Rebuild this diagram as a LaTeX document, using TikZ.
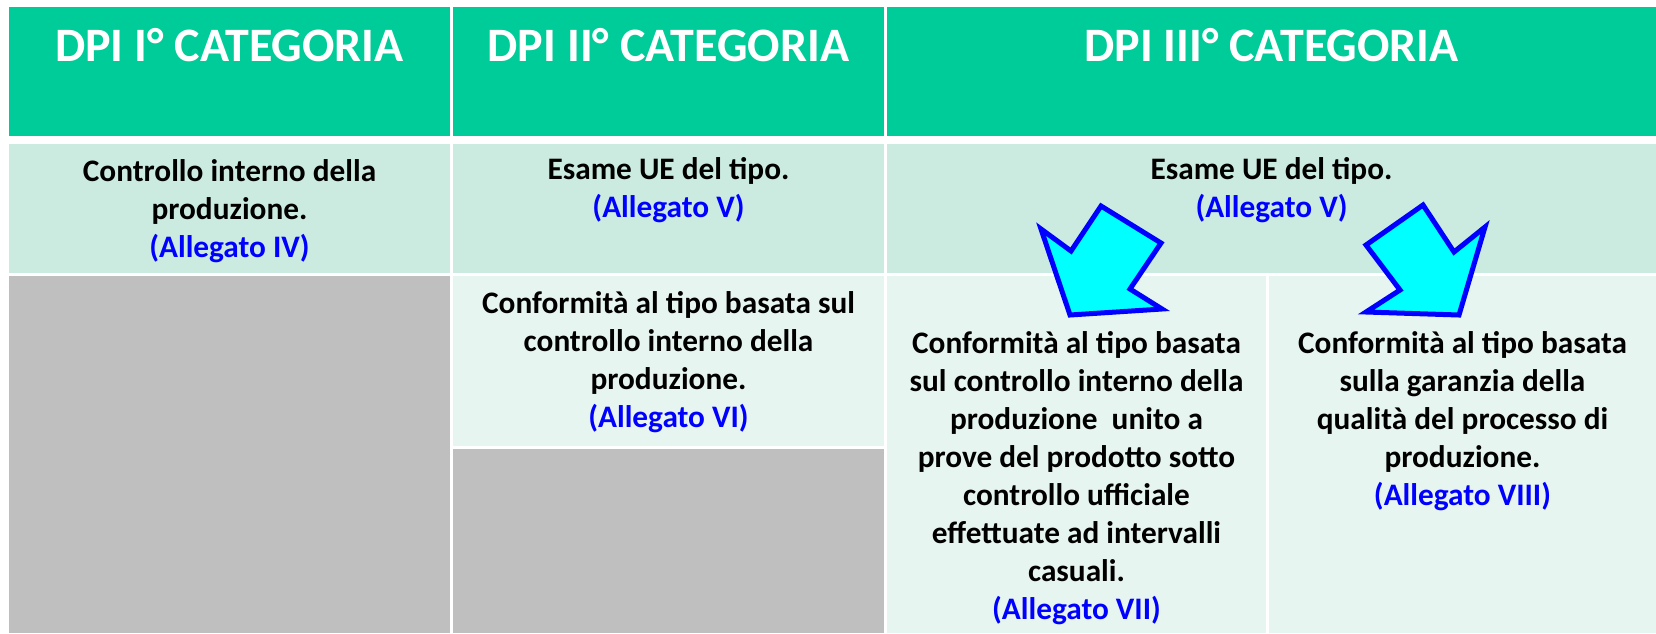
\documentclass[tikz,border=0pt]{standalone}
\usepackage{fontspec}
\setmainfont{Carlito}
\usetikzlibrary{positioning}

\definecolor{hdrgreen}{RGB}{0,204,153}
\definecolor{rowmid}{RGB}{204,235,224}
\definecolor{rowpale}{RGB}{231,245,240}
\definecolor{cellgray}{RGB}{191,191,191}
\definecolor{annexblue}{RGB}{0,0,255}
\definecolor{arrowcyan}{RGB}{0,255,255}

\begin{document}
\begin{tikzpicture}[x=1pt,y=-1pt,
    cell/.style={anchor=north west,inner sep=0pt,outer sep=0pt},
    head/.style={anchor=base,text=white,inner sep=0pt,
                 font=\fontsize{48}{58}\selectfont\bfseries},
    body/.style={anchor=base,align=center,inner sep=0pt,
                 font=\fontsize{31.3}{38}\selectfont\bfseries},
    bigarrow/.style={draw=annexblue,fill=arrowcyan,line width=5pt,line join=miter}]

  \useasboundingbox (0,0) rectangle (1656,633);

  % header row
  \node[cell,fill=hdrgreen,minimum width=441pt,minimum height=129pt] (hdrI)   at (9,7) {};
  \node[cell,fill=hdrgreen,minimum width=431pt,minimum height=129pt] (hdrII)  at (453,7) {};
  \node[cell,fill=hdrgreen,minimum width=769pt,minimum height=129pt] (hdrIII) at (887,7) {};

  % second row
  \node[cell,fill=rowmid,minimum width=441pt,minimum height=129pt] (modI)   at (9,144) {};
  \node[cell,fill=rowmid,minimum width=431pt,minimum height=129pt] (modII)  at (453,144) {};
  \node[cell,fill=rowmid,minimum width=769pt,minimum height=129pt] (modIII) at (887,144) {};

  % third row
  \node[cell,fill=cellgray,minimum width=441pt,minimum height=357pt] (emptyI)  at (9,276) {};
  \node[cell,fill=rowpale,minimum width=431pt,minimum height=170pt]  (confII)  at (453,276) {};
  \node[cell,fill=cellgray,minimum width=431pt,minimum height=184pt] (emptyII) at (453,449) {};
  \node[cell,fill=rowpale,minimum width=379pt,minimum height=357pt]  (confVII) at (887,276) {};
  \node[cell,fill=rowpale,minimum width=387pt,minimum height=357pt]  (confVIII) at (1269,276) {};

  % titles
  \node[head] (titI)   at (229.5,61) {DPI I° CATEGORIA};
  \node[head] (titII)  at (668.5,61) {DPI II° CATEGORIA};
  \node[head] (titIII) at (1271.5,61) {DPI III° CATEGORIA};

  % texts (base = last line)
  \node[body] (txtI) at (229.5,257)
    {Controllo interno della\\produzione.\\\textcolor{annexblue}{(Allegato IV)}};
  \node[body] (txtII) at (668.5,217)
    {Esame UE del tipo.\\\textcolor{annexblue}{(Allegato V)}};
  \node[body] (txtIII) at (1271.5,217)
    {Esame UE del tipo.\\\textcolor{annexblue}{(Allegato V)}};
  \node[body] (txtVI) at (668.5,427)
    {Conformità al tipo basata sul\\controllo interno della\\produzione.\\\textcolor{annexblue}{(Allegato VI)}};
  \node[body] (txtVII) at (1076.5,619)
    {Conformità al tipo basata\\sul controllo interno della\\produzione\ \ unito a\\prove del prodotto sotto\\controllo ufficiale\\effettuate ad intervalli\\casuali.\\\textcolor{annexblue}{(Allegato VII)}};
  \node[body] (txtVIII) at (1462.5,505)
    {Conformità al tipo basata\\sulla garanzia della\\qualità del processo di\\produzione.\\\textcolor{annexblue}{(Allegato VIII)}};

  % block arrows
  \draw[bigarrow] (1070,315) -- (1041,229) -- (1071,251) -- (1101,206)
    -- (1161,243) -- (1130,289) -- (1162,309) -- cycle;
  \draw[bigarrow] (1459,315) -- (1485,227) -- (1454,252) -- (1423,205)
    -- (1366,245) -- (1400,290) -- (1366,312) -- cycle;

\end{tikzpicture}
\end{document}
